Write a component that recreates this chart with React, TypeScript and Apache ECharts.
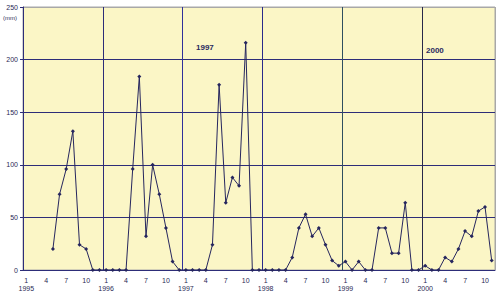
import React, { useEffect, useRef } from "react";
import * as echarts from "echarts";

const years = ["1995", "1996", "1997", "1998", "1999", "2000"];
const monthCount = 71; // Jan 1995 .. Nov 2000

const rain1995 = [null, null, null, null, 20, 72, 96, 132, 24, 20, 0, 0];
const rain1996 = [0, 0, 0, 0, 96, 184, 32, 100, 72, 40, 8, 0];
const rain1997 = [0, 0, 0, 0, 24, 176, 64, 88, 80, 216, 0, 0];
const rain1998 = [0, 0, 0, 0, 12, 40, 53, 32, 40, 24, 9, 4];
const rain1999 = [8, 0, 8, 0, 0, 40, 40, 16, 16, 64, 0, 0];
const rain2000 = [4, 0, 0, 12, 8, 20, 37, 32, 56, 60, 9];

const yTicks = [0, 50, 100, 150, 200, 250];
const shownMonths = [1, 4, 7, 10];
const annotations = [
  { text: "1997", x: 196, y: 43 },
  { text: "2000", x: 426, y: 46 },
];

export default function App() {
  const ref = useRef<HTMLDivElement>(null);
  useEffect(() => {
    if (!ref.current) return;
    const chart = echarts.init(ref.current, null, { renderer: "svg" });
    const categories: string[] = [];
    for (let i = 0; i < monthCount; i++) {
      categories.push(`${years[Math.floor(i / 12)]}-${(i % 12) + 1}`);
    }
    const values = [
      ...rain1995,
      ...rain1996,
      ...rain1997,
      ...rain1998,
      ...rain1999,
      ...rain2000,
    ];
    const navy = "#2d2d78";
    const textColor = "#2a2a55";
    const font = "'Liberation Sans', Arial, sans-serif";
    chart.setOption({
      animation: false,
      backgroundColor: "#ffffff",
      grid: {
        left: 23,
        right: 5,
        top: 7,
        bottom: 28,
        show: true,
        backgroundColor: "#FBF6C6",
        borderColor: "#a8a8a8",
        borderWidth: 1,
      },
      xAxis: {
        type: "category",
        data: categories,
        boundaryGap: true,
        axisLine: { show: true, lineStyle: { color: navy, width: 1 } },
        axisTick: { show: false },
        axisLabel: {
          interval: (idx: number) => shownMonths.includes((idx % 12) + 1),
          color: textColor,
          fontSize: 7,
          fontFamily: font,
          margin: 6,
          lineHeight: 8,
          formatter: (_v: string, idx: number) => {
            const m = (idx % 12) + 1;
            return m === 1 ? `${m}\n${years[Math.floor(idx / 12)]}` : `${m}`;
          },
        },
        splitLine: {
          show: true,
          interval: (idx: number) => idx > 0 && idx % 12 === 0,
          lineStyle: {
            color: [navy, "#30309a", "#2a2a8a", "#2f4f5f", "#28284a", "#a8a8a8"],
            width: 1,
          },
        },
      },
      yAxis: {
        type: "value",
        min: yTicks[0],
        max: yTicks[yTicks.length - 1],
        interval: 50,
        axisLine: { show: true, lineStyle: { color: navy, width: 1 } },
        axisTick: { show: true, length: 3, lineStyle: { color: navy } },
        axisLabel: {
          color: textColor,
          fontSize: 7,
          fontFamily: font,
          margin: 5,
        },
        splitLine: {
          show: true,
          lineStyle: {
            color: [navy, navy, navy, navy, navy, "#a8a8a8"],
            width: 1,
          },
        },
      },
      graphic: [
        {
          type: "text",
          left: 3,
          top: 15,
          style: { text: "(mm)", fontSize: 6, fontFamily: font, fill: textColor },
        },
        ...annotations.map((a) => ({
          type: "text",
          x: a.x,
          y: a.y,
          style: {
            text: a.text,
            fontSize: 8,
            fontWeight: "bold",
            fontFamily: font,
            fill: "#2a2a60",
          },
        })),
      ],
      series: [
        {
          type: "line",
          data: values,
          connectNulls: false,
          symbol: "diamond",
          symbolSize: 4,
          lineStyle: { color: "#26265e", width: 1 },
          itemStyle: { color: "#26265e" },
        },
      ],
    });
    return () => chart.dispose();
  }, []);
  return (
    <div
      ref={ref}
      style={{ position: "fixed", left: 0, top: 0, width: 500, height: 298 }}
    />
  );
}
